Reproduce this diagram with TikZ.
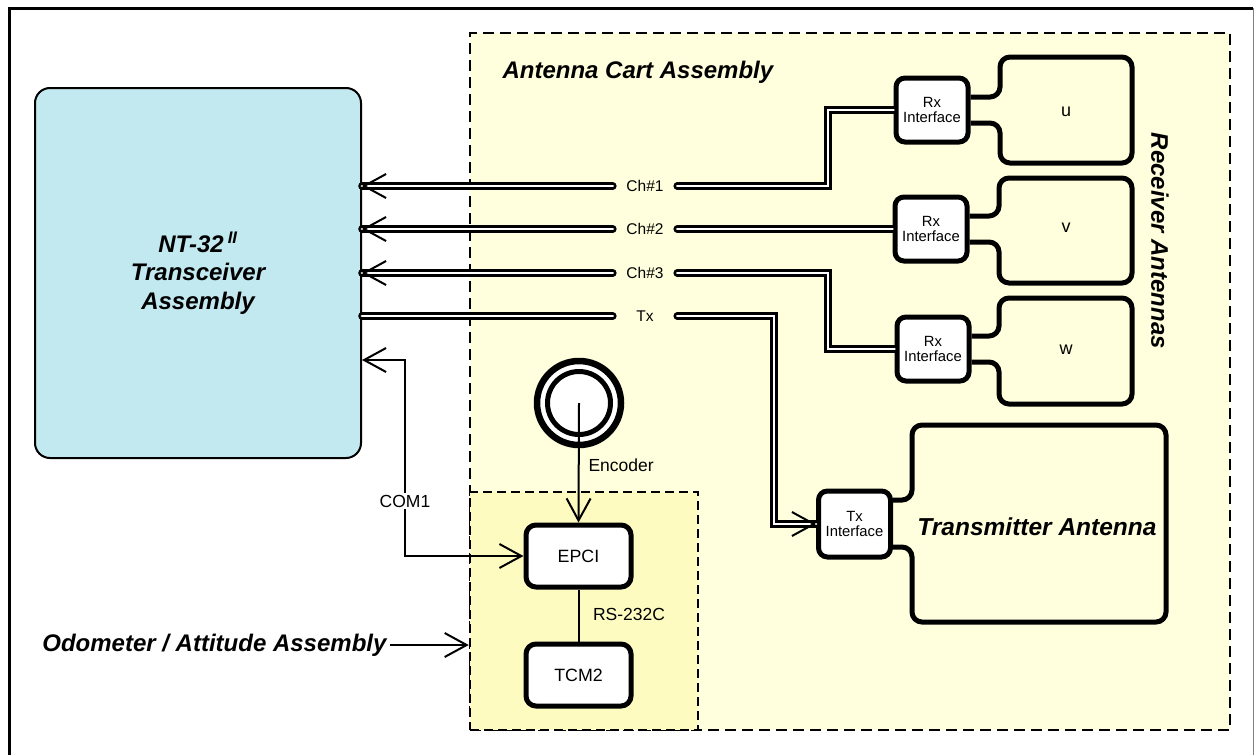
\documentclass[tikz,border=0pt]{standalone}
\usepackage{fontspec}
\setmainfont{Liberation Sans}
\usetikzlibrary{arrows.meta}
\definecolor{ntblue}{RGB}{194,232,240}
\definecolor{cartyellow}{RGB}{255,255,221}
\definecolor{odoyellow}{RGB}{253,251,192}
\begin{document}
\begin{tikzpicture}[x=1pt, y=-1pt,
    asmbox/.style={draw, line width=2.5pt, dash pattern=on 11pt off 6pt, inner sep=0pt},
    ntbox/.style={draw, line width=2pt, fill=ntblue, rounded corners=15pt, minimum width=326pt, minimum height=370pt, align=center, font=\fontsize{24}{28.5}\selectfont\bfseries\itshape},
    ifbox/.style={draw, line width=5pt, fill=white, rounded corners=9pt, minimum width=72pt, minimum height=64pt, inner sep=0pt, align=center, font=\fontsize{14.8}{15}\selectfont},
    unitbox/.style={draw, line width=5pt, fill=white, rounded corners=10pt, minimum width=105pt, minimum height=62pt, font=\fontsize{17.8}{20}\selectfont},
    encring/.style={circle, draw, line width=6.5pt, fill=white, inner sep=0pt},
    chlabel/.style={minimum width=64pt, inner sep=0pt, font=\fontsize{15.5}{18}\selectfont},
    lbl/.style={font=\fontsize{17.5}{20}\selectfont},
    title/.style={font=\fontsize{24}{28}\selectfont\bfseries\itshape},
    cable/.style={double=white, double distance=2.8pt, line width=2.4pt, line cap=round},
    antenna/.style={line width=5pt, rounded corners=10pt},
    wire/.style={line width=2pt},
    barb/.style={line width=2pt, -{Straight Barb[length=22pt, width=24pt]}},
    dbarb/.style={line width=2pt, {Straight Barb[length=22pt, width=24pt]}-{Straight Barb[length=22pt, width=24pt]}}]
    \useasboundingbox (0,0) rectangle (1255,755);

    % Frame
    \draw[line width=3pt] (9,755) -- (9,8) -- (1253,8);
    \draw[gray, line width=0.8pt] (1253,8) -- (1253,755);

    % Assemblies
    \node[asmbox, fill=cartyellow, minimum width=760pt, minimum height=697pt] (cart) at (850,381.5) {};
    \node[asmbox, fill=odoyellow, dash pattern=on 9pt off 5pt, minimum width=228pt, minimum height=238pt] (odo) at (584,611) {};
    \node[title, anchor=west] (cartlabel) at (499,72) {Antenna Cart Assembly};
    \node[title, anchor=east] (odolabel) at (390,645) {Odometer / Attitude Assembly};
    \draw[barb] (odolabel.east) -- (odo.west |- odolabel);

    % Transceiver
    \node[ntbox] (nt) at (198,273) {NT-32\,\textsuperscript{II}\\Transceiver\\Assembly};

    % Channel labels
    \node[chlabel] (ch1) at (645,186) {Ch\#1};
    \node[chlabel] (ch2) at (645,229) {Ch\#2};
    \node[chlabel] (ch3) at (645,273) {Ch\#3};
    \node[chlabel] (tx)  at (645,316) {Tx};

    % Interfaces
    \node[ifbox] (rx1) at (932,110) {Rx\\Interface};
    \node[ifbox] (rx2) at (931,229) {Rx\\Interface};
    \node[ifbox] (rx3) at (933,349) {Rx\\Interface};
    \node[ifbox, minimum height=66pt] (txif) at (854.5,524) {Tx\\Interface};

    % Receiver antennas
    \draw[antenna] ([yshift=13pt]rx1.east) -- (1000,97) -- (1000,57) -- (1132,57) -- (1132,163) -- (1000,163) -- (1000,123) -- ([yshift=-13pt]rx1.east);
    \draw[antenna] ([yshift=13pt]rx2.east) -- (999,216) -- (999,178) -- (1132,178) -- (1132,283) -- (999,283) -- (999,242) -- ([yshift=-13pt]rx2.east);
    \draw[antenna] ([yshift=13pt]rx3.east) -- (999,336) -- (999,298) -- (1132,298) -- (1132,404) -- (999,404) -- (999,362) -- ([yshift=-13pt]rx3.east);
    \node[lbl, font=\fontsize{18}{20}\selectfont] (u) at (1066,112) {u};
    \node[lbl, font=\fontsize{18}{20}\selectfont] (v) at (1066,228) {v};
    \node[lbl, font=\fontsize{18}{20}\selectfont] (w) at (1066,350) {w};
    \node[title, rotate=-90] (rxant) at (1160,241) {Receiver Antennas};

    % Transmitter antenna
    \draw[antenna] ([yshift=24pt]txif.east) -- (912,500) -- (912,425) -- (1166,425) -- (1166,622) -- (912,622) -- (912,547) -- ([yshift=-23pt]txif.east);
    \node[title, font=\fontsize{24.5}{28}\selectfont\bfseries\itshape] (txant) at (1037,527) {Transmitter Antenna};

    % Cables to transceiver
    \draw[cable] (ch1.west) -- (nt.east |- ch1);
    \draw[cable] (ch2.west) -- (nt.east |- ch2);
    \draw[cable] (ch3.west) -- (nt.east |- ch3);
    \draw[cable] (tx.west) -- (nt.east |- tx);
    \draw[barb] ([xshift=1pt]nt.east |- ch1) -- (nt.east |- ch1);
    \draw[barb] ([xshift=1pt]nt.east |- ch2) -- (nt.east |- ch2);
    \draw[barb] ([xshift=1pt]nt.east |- ch3) -- (nt.east |- ch3);

    % Cables to interfaces
    \draw[cable] (ch1.east) -- (828,186) |- (rx1.west);
    \draw[cable] (ch2.east) -- (rx2.west);
    \draw[cable] (ch3.east) -- (828,273) |- (rx3.west);
    \draw[cable] (tx.east) -- (774,316) |- (txif.west);
    \draw[barb] ([xshift=-1pt]txif.west) -- (txif.west);

    % Odometer / attitude
    \node[unitbox] (epci) at (578.5,556) {EPCI};
    \node[unitbox] (tcm) at (578.5,675) {TCM2};
    \draw[wire] (epci.south) -- (tcm.north);
    \node[lbl] (rs) at (629,614) {RS-232C};

    % Encoder
    \node[encring, minimum size=84pt] (enc) at (579,403) {};
    \node[encring, line width=5pt, minimum size=63pt] (encin) at (enc) {};
    \draw[barb] (enc.center) -- (epci.north);
    \node[lbl, anchor=west] (enclabel) at (585,465) {Encoder};

    % COM1
    \coordinate (com) at (405,360);
    \draw[dbarb] (nt.east |- com) -- (com) |- (epci.west);
    \node[lbl, fill=white, inner sep=2pt] (com1) at (405,501) {COM1};
\end{tikzpicture}
\end{document}
